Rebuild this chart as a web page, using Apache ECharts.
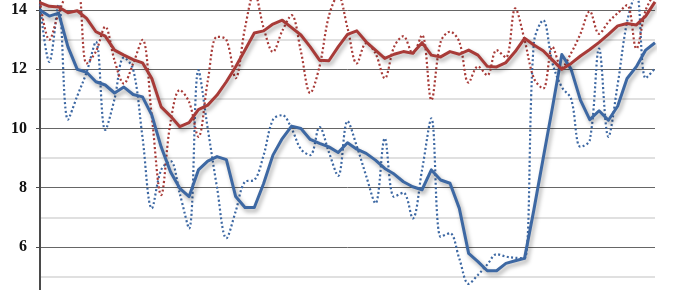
<!DOCTYPE html>
<html>
<head>
<meta charset="utf-8">
<script src="https://cdn.jsdelivr.net/npm/echarts@6/dist/echarts.min.js"></script>
<style>
html,body{margin:0;padding:0;background:#fff;overflow:hidden;width:680px;height:290px;}
#wrap{position:relative;width:680px;height:290px;overflow:hidden;}
#chart{position:absolute;left:0;top:-49px;width:680px;height:355px;}
</style>
</head>
<body>
<div id="wrap"><div id="chart"></div></div>
<script>
var categories = [];
for (var i = 1; i <= 67; i++) { categories.push(String(i)); }

var yTickLabels = ['6', '8', '10', '12', '14'];

var blueSolid = [14.0,13.8,13.9,12.76,12.0,11.9,11.58,11.47,11.2,11.4,11.15,11.07,10.45,9.38,8.54,7.98,7.7,8.6,8.9,9.05,8.95,7.7,7.33,7.33,8.14,9.1,9.66,10.08,10.0,9.63,9.5,9.38,9.19,9.52,9.3,9.16,8.93,8.65,8.46,8.2,8.03,7.93,8.6,8.26,8.15,7.3,5.78,5.5,5.19,5.19,5.44,5.53,5.61,7.25,8.99,10.72,12.5,12.0,10.96,10.3,10.6,10.28,10.76,11.69,12.09,12.65,12.9];

var redSolid = [14.25,14.13,14.11,13.91,13.98,13.72,13.27,13.12,12.65,12.48,12.33,12.22,11.69,10.73,10.42,10.06,10.2,10.64,10.79,11.13,11.58,12.09,12.65,13.23,13.3,13.53,13.66,13.41,13.16,12.76,12.31,12.29,12.76,13.18,13.3,12.93,12.65,12.37,12.51,12.6,12.54,12.9,12.48,12.42,12.6,12.51,12.65,12.48,12.1,12.08,12.23,12.6,13.05,12.82,12.63,12.31,12.0,12.2,12.45,12.67,12.91,13.18,13.47,13.55,13.5,13.8,14.28];

var redDotted = [14.3,13.0,13.9,14.6,14.8,12.2,12.6,13.44,12.3,11.52,12.2,13.0,10.4,7.75,10.2,11.3,10.9,9.72,11.6,13.1,13.0,11.7,13.4,14.6,13.4,12.59,13.3,13.83,12.6,11.2,12.1,13.8,14.5,13.4,12.2,12.88,12.54,11.7,12.76,13.12,12.54,13.16,10.96,12.93,13.27,12.93,11.55,12.1,11.8,12.65,12.4,14.06,13.0,11.7,11.35,12.76,12.06,12.55,13.2,13.96,13.2,13.6,13.9,14.17,12.7,14.0,14.6];

var blueDotted = [14.2,12.25,14.2,10.3,11.1,11.9,12.93,9.95,11.0,12.4,12.0,9.7,7.3,8.6,8.9,7.8,6.62,11.97,10.0,8.0,6.29,7.2,8.2,8.26,9.1,10.3,10.45,10.0,9.3,9.1,10.05,9.2,8.4,10.25,9.4,8.4,7.47,9.67,7.69,7.83,6.96,8.6,10.34,6.34,6.46,5.6,4.75,5.05,5.4,5.75,5.67,5.63,5.61,12.9,13.66,12.2,11.4,11.0,9.38,9.6,12.7,9.72,11.5,13.6,14.6,11.7,12.03];

var BLUE = '#3d68a3';
var RED = '#a83b38';

var chart = echarts.init(document.getElementById('chart'), null, {renderer: 'canvas'});

function dotted(name, data, color) {
  return {
    name: name, type: 'line', data: data, symbol: 'none', smooth: 0.35,
    lineStyle: {color: color, width: 2.2, type: [2, 2.4], cap: 'butt'},
    silent: true, animation: false
  };
}
function solid(name, data, color) {
  return {
    name: name, type: 'line', data: data, symbol: 'none', smooth: false,
    lineStyle: {color: color, width: 3, join: 'round',
      shadowColor: 'rgba(0,0,0,0.35)', shadowBlur: 4, shadowOffsetX: 2, shadowOffsetY: 3},
    silent: true, animation: false
  };
}

chart.setOption({
  backgroundColor: '#ffffff',
  animation: false,
  grid: {left: 40, right: 25, top: 0, bottom: 0, containLabel: false},
  xAxis: {
    type: 'category', data: categories, boundaryGap: false,
    axisLine: {show: false}, axisTick: {show: false}, axisLabel: {show: false},
    splitLine: {show: false}
  },
  yAxis: {
    type: 'value', min: 4, max: 16, interval: 2,
    axisLine: {show: true, lineStyle: {color: '#4a4a4a', width: 2}},
    axisTick: {show: true, length: 4, lineStyle: {color: '#4a4a4a', width: 1}},
    axisLabel: {
      margin: 13, color: '#111', fontSize: 16, fontWeight: 'bold',
      fontFamily: 'Liberation Serif',
      formatter: function (v) {
        var s = String(v);
        return yTickLabels.indexOf(s) >= 0 ? s : '';
      }
    },
    splitLine: {show: true, lineStyle: {color: '#666', width: 1}},
    minorTick: {show: false, splitNumber: 2},
    minorSplitLine: {show: true, lineStyle: {color: '#d6d6d6', width: 1.5}}
  },
  series: [
    dotted('Blue (monthly)', blueDotted, BLUE),
    dotted('Red (monthly)', redDotted, RED),
    solid('Blue (average)', blueSolid, BLUE),
    solid('Red (average)', redSolid, RED)
  ]
});
</script>
</body>
</html>
